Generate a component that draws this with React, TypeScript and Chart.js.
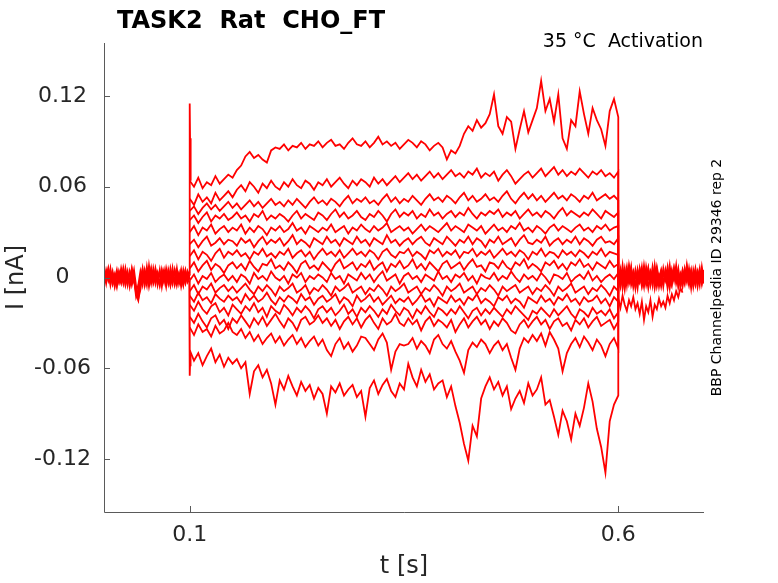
import { Chart, registerables } from 'chart.js';
import { useEffect, useRef } from 'react';

Chart.register(...registerables);

// currents are in pA here, plotted in nA
const STEP_T = [
  0.100, 0.105, 0.110, 0.115, 0.120, 0.125, 0.130, 0.135, 0.140, 0.145,
  0.150, 0.155, 0.160, 0.165, 0.170, 0.175, 0.180, 0.185, 0.190, 0.195,
  0.200, 0.205, 0.210, 0.215, 0.220, 0.225, 0.230, 0.235, 0.240, 0.245,
  0.250, 0.255, 0.260, 0.265, 0.270, 0.275, 0.280, 0.285, 0.290, 0.295,
  0.300, 0.305, 0.310, 0.315, 0.320, 0.325, 0.330, 0.335, 0.340, 0.345,
  0.350, 0.355, 0.360, 0.365, 0.370, 0.375, 0.380, 0.385, 0.390, 0.395,
  0.400, 0.405, 0.410, 0.415, 0.420, 0.425, 0.430, 0.435, 0.440, 0.445,
  0.450, 0.455, 0.460, 0.465, 0.470, 0.475, 0.480, 0.485, 0.490, 0.495,
  0.500, 0.505, 0.510, 0.515, 0.520, 0.525, 0.530, 0.535, 0.540, 0.545,
  0.550, 0.555, 0.560, 0.565, 0.570, 0.575, 0.580, 0.585, 0.590, 0.595,
  0.600,
];

const SWEEP_01 = [
  64, 60, 66, 59, 63, 61, 67, 62, 65, 68, 66,
  71, 74, 80, 83, 79, 81, 78, 76, 84, 86,
  85, 88, 84, 87, 86, 89, 85, 88, 87, 90,
  86, 89, 91, 87, 88, 85, 89, 92, 88, 87,
  90, 86, 89, 93, 88, 90, 87, 89, 85, 88,
  91, 89, 86, 90, 88, 84, 87, 89, 86, 78,
  84, 82, 87,
  95, 100, 97, 104, 99, 102, 108,
  121, 100, 95, 106, 103, 85, 98, 110, 96, 104,
  112, 130, 110, 118, 103, 121, 92, 85, 104, 100,
  123, 108, 95, 112, 104, 98, 87, 110, 118, 106, 112,
];
const SWEEP_02 = [
  52, 48, 55, 50, 53, 49, 56, 51, 54, 57, 53,
  58, 61, 57, 63, 60, 56, 62, 59, 64, 60,
  58, 63, 60, 65, 61, 59, 64, 62, 58, 63,
  61, 65, 60, 63, 66, 62, 59, 64, 61, 65,
  63, 60, 66, 62, 65, 61, 64, 67, 63, 66,
  69, 65, 68, 64, 67, 70, 66, 69, 65, 68,
  71, 67, 69, 66, 70, 68, 72, 66, 69, 67,
  70, 64, 68, 71, 67, 62, 65, 68, 70, 66,
  69, 72, 67, 70, 73, 68, 71, 67, 70, 68,
  72, 69, 66, 70, 68, 71, 67, 69, 66, 70, 68,
];
const SWEEP_03 = [
  44, 47, 42, 46, 49, 45, 48, 44, 47, 50, 46,
  49, 45, 48, 51, 47, 50, 46, 49, 52, 48,
  50, 47, 51, 48, 52, 49, 46, 50, 53, 49,
  51, 48, 52, 50, 47, 51, 54, 49, 52, 50,
  53, 49, 51, 48, 52, 55, 50, 53, 49, 52,
  50, 54, 51, 48, 52, 55, 51, 53, 50, 54,
  52, 49, 53, 56, 51, 54, 50, 52, 55, 51,
  53, 50, 54, 57, 52, 49, 53, 56, 52, 55,
  51, 54, 50, 53, 56, 52, 54, 51, 55, 53,
  50, 54, 52, 56, 51, 53, 55, 52, 54, 51, 53,
];
const SWEEP_04 = [
  38, 41, 36, 40, 43, 37, 41, 39, 42, 38, 40,
  43, 39, 41, 37, 42, 40, 44, 38, 41, 39,
  42, 40, 37, 41, 44, 39, 42, 40, 38, 43,
  41, 38, 42, 45, 40, 43, 39, 41, 44, 40,
  38, 42, 40, 44, 41, 37, 42, 45, 40, 43,
  41, 44, 39, 42, 40, 45, 41, 43, 39, 42,
  44, 40, 43, 41, 46, 42, 39, 43, 41, 44,
  42, 45, 40, 43, 41, 44, 39, 42, 45, 41,
  43, 40, 44, 42, 39, 43, 46, 41, 44, 42,
  40, 43, 41, 45, 42, 39, 44, 42, 40, 43, 41,
];
const SWEEP_05 = [
  30, 34, 28, 33, 31, 35, 29, 32, 34, 30, 33,
  31, 35, 29, 33, 30, 34, 32, 28, 33, 31,
  34, 30, 32, 36, 31, 33, 29, 34, 32, 30,
  33, 31, 35, 30, 32, 34, 29, 33, 31, 35,
  32, 30, 34, 31, 33, 36, 30, 32, 34, 31,
  33, 29, 32, 35, 31, 34, 32, 30, 33, 36,
  31, 34, 32, 30, 35, 33, 31, 34, 29, 32,
  35, 31, 33, 30, 34, 32, 36, 31, 33, 30,
  34, 32, 29, 33, 35, 31, 34, 32, 30, 33,
  35, 31, 33, 30, 34, 32, 35, 31, 33, 34, 32,
];
const SWEEP_06 = [
  22, 25, 20, 24, 27, 21, 23, 26, 22, 25, 24,
  21, 26, 23, 25, 20, 24, 27, 22, 25, 23,
  26, 21, 24, 28, 22, 25, 23, 20, 26, 24,
  22, 27, 23, 25, 21, 26, 24, 22, 27, 23,
  25, 21, 26, 24, 22, 28, 23, 25, 21, 24,
  26, 22, 25, 27, 23, 21, 26, 24, 22, 27,
  24, 21, 25, 23, 27, 22, 26, 24, 20, 25,
  23, 27, 22, 24, 26, 21, 25, 28, 23, 22,
  25, 23, 27, 21, 24, 26, 22, 25, 23, 27,
  22, 26, 24, 21, 25, 27, 23, 24, 22, 26, 24,
];
const SWEEP_07 = [
  14, 18, 12, 17, 15, 11, 16, 19, 13, 17, 15,
  18, 14, 16, 12, 17, 15, 19, 14, 16, 13,
  17, 15, 19, 13, 16, 18, 14, 17, 12, 16,
  19, 15, 17, 14, 18, 13, 16, 19, 15, 17,
  14, 18, 16, 12, 17, 19, 15, 13, 17, 16,
  19, 14, 17, 15, 12, 18, 16, 19, 14, 17,
  15, 18, 13, 17, 16, 19, 14, 17, 15, 18,
  13, 16, 19, 15, 17, 14, 18, 16, 12, 17,
  15, 19, 14, 17, 16, 13, 18, 15, 17, 14,
  18, 16, 13, 17, 15, 19, 14, 17, 16, 15, 18,
];
const SWEEP_08 = [
  6, 10, 4, 8, 11, 5, 9, 7, 3, 8, 10,
  6, 9, 5, 11, 7, 4, 9, 8, 12, 6,
  8, 5, 10, 7, 3, 9, 11, 6, 8, 5,
  10, 7, 4, 9, 12, 6, 8, 10, 5, 9,
  7, 11, 5, 8, 10, 4, 9, 7, 11, 6,
  8, 12, 6, 9, 5, 10, 7, 4, 9, 11,
  6, 8, 10, 5, 9, 12, 7, 8, 4, 10,
  9, 6, 11, 7, 5, 10, 8, 12, 6, 9,
  7, 4, 10, 8, 11, 6, 9, 5, 10, 8,
  12, 7, 9, 5, 10, 8, 6, 11, 7, 9, 8,
];
const SWEEP_09 = [
  -2, 2, -4, 1, -1, 3, -3, 0, 2, -2, 1,
  -3, 2, 0, -4, 3, -1, 1, -2, 4, 0,
  -2, 1, -4, 2, 0, 3, -3, 1, -1, 2,
  0, -3, 3, -1, 1, -4, 2, 0, -2, 3,
  -1, 2, -3, 1, 4, -2, 0, 2, -4, 1,
  3, -1, 1, -3, 2, 0, -2, 4, -1, 1,
  -3, 2, 0, 3, -2, 1, -4, 2, 0, -1,
  3, -2, 1, -1, 4, 0, -3, 2, -1, 1,
  -2, 3, 0, -4, 2, 1, -1, 3, -3, 0,
  2, -1, 4, -2, 1, -3, 0, 2, -1, 3, 0,
];
const SWEEP_10 = [
  -9, -5, -11, -6, -8, -4, -10, -7, -5, -9, -6,
  -10, -7, -4, -8, -11, -6, -9, -5, -8, -12,
  -6, -9, -7, -4, -10, -8, -5, -11, -7, -9,
  -5, -8, -12, -6, -9, -7, -4, -10, -8, -6,
  -11, -7, -9, -5, -8, -12, -6, -9, -7, -4,
  -10, -8, -6, -11, -7, -9, -5, -8, -12, -6,
  -9, -7, -4, -10, -8, -6, -11, -7, -9, -5,
  -8, -12, -6, -9, -7, -5, -10, -8, -6, -11,
  -7, -9, -5, -8, -12, -6, -9, -7, -4, -10,
  -8, -6, -11, -7, -9, -5, -8, -12, -6, -9, -7,
];
const SWEEP_11 = [
  -12, -16, -10, -15, -13, -17, -11, -14, -16, -12, -15,
  -13, -17, -11, -15, -12, -16, -14, -10, -15, -18,
  -13, -16, -12, -14, -17, -11, -15, -13, -18, -14,
  -12, -16, -14, -11, -17, -13, -15, -19, -12, -16,
  -14, -11, -16, -13, -18, -15, -12, -17, -14, -16,
  -13, -18, -15, -11, -16, -14, -19, -13, -15, -17,
  -12, -16, -14, -18, -13, -15, -11, -17, -14, -16,
  -19, -13, -15, -12, -17, -14, -16, -20, -13, -15,
  -17, -12, -16, -14, -18, -13, -15, -11, -16, -14,
  -18, -13, -16, -15, -12, -17, -14, -19, -13, -16, -15,
];
const SWEEP_12 = [
  -18, -22, -16, -21, -24, -19, -17, -23, -20, -25, -18,
  -21, -24, -19, -22, -17, -23, -20, -26, -19, -22,
  -24, -18, -21, -25, -20, -23, -19, -22, -27, -21,
  -19, -23, -20, -25, -22, -18, -24, -21, -26, -20,
  -23, -19, -22, -26, -21, -24, -18, -22, -25, -20,
  -22, -27, -21, -24, -19, -23, -26, -20, -22, -25,
  -21, -24, -19, -23, -27, -22, -20, -25, -21, -24,
  -20, -23, -26, -21, -24, -19, -22, -25, -28, -22,
  -24, -20, -23, -26, -21, -25, -22, -19, -24, -27,
  -21, -23, -26, -20, -24, -22, -25, -21, -27, -23, -24,
];
const SWEEP_13 = [
  -26, -30, -24, -29, -33, -27, -25, -31, -28, -34, -27,
  -30, -25, -29, -33, -27, -31, -26, -32, -28, -24,
  -29, -33, -27, -30, -35, -28, -26, -31, -29, -25,
  -30, -27, -32, -28, -34, -29, -26, -31, -27, -33,
  -28, -25, -30, -34, -27, -31, -29, -24, -30, -32,
  -27, -31, -28, -35, -29, -26, -32, -28, -30, -33,
  -28, -36, -31, -27, -33, -29, -26, -31, -28, -34,
  -29, -32, -27, -30, -35, -37, -31, -28, -33, -29,
  -26, -31, -28, -34, -29, -27, -32, -30, -35, -28,
  -31, -27, -33, -29, -26, -32, -30, -28, -34, -29, -31,
];
const SWEEP_14 = [
  -33, -38, -31, -36, -34, -39, -32, -37, -35, -30, -36,
  -38, -34, -40, -36, -42, -38, -44, -40, -37, -43,
  -39, -45, -41, -38, -44, -40, -46, -42, -39, -45,
  -41, -48, -52, -44, -40, -47, -43, -49, -45, -39,
  -40, -44, -48, -41, -37, -43, -61, -49, -44, -45,
  -44, -40, -47, -42, -45, -50, -41, -38, -44, -47,
  -42, -49, -55, -63, -48, -43, -46, -41, -44, -50,
  -45, -42, -48, -44, -53, -61, -47, -40, -43, -38,
  -42, -37, -45, -36, -41, -47, -62, -50, -44, -40,
  -46, -39, -43, -48, -41, -45, -52, -44, -40, -47, -43,
];
const SWEEP_15 = [
  -48, -55, -50, -58, -52, -47, -56, -51, -59, -53, -57,
  -54, -60, -56, -77, -62, -58, -66, -61, -70, -84,
  -68, -74, -65, -72, -78, -69, -75, -71, -80, -73,
  -77, -90, -72, -76, -70, -78, -74, -71, -79, -75,
  -92, -73, -68, -77, -71, -67, -75, -79, -70, -74,
  -57, -66, -72, -61, -69, -64, -74, -70, -68, -79,
  -72, -85, -96, -110, -121, -98, -105, -80, -72, -66,
  -74, -69, -78, -72, -87, -80, -75, -83, -70, -78,
  -74, -66, -84, -81, -92, -104, -88, -95, -107, -90,
  -98, -86, -70, -82, -100, -112, -129, -95, -84, -78, -86,
];
const SWEEPS = [
  SWEEP_01, SWEEP_02, SWEEP_03, SWEEP_04, SWEEP_05, SWEEP_06, SWEEP_07, SWEEP_08,
  SWEEP_09, SWEEP_10, SWEEP_11, SWEEP_12, SWEEP_13, SWEEP_14, SWEEP_15,
];

// holding current before the step
const PRE_T = [
  0.0000, 0.0025, 0.0050, 0.0075, 0.0100, 0.0125, 0.0150, 0.0175, 0.0200, 0.0225,
  0.0250, 0.0275, 0.0300, 0.0325, 0.0350, 0.0375, 0.0400, 0.0425, 0.0450, 0.0475,
  0.0500, 0.0525, 0.0550, 0.0575, 0.0600, 0.0625, 0.0650, 0.0675, 0.0700, 0.0725,
  0.0750, 0.0775, 0.0800, 0.0825, 0.0850, 0.0875, 0.0900, 0.0925, 0.0950, 0.0975,
  0.1000,
];
const PRE_A = [3, -4, 5, -2, 4, -5, 2, -3, 6, -1, 3, -5, 4, -2, 5, -6, -14, -8, 3, -4, 7, -3, 5, -2, 4, -5, 3, -1, 5, -4, 2, -5, 6, -3, 4, -2, 5, -4, 3, -2, 2];
const PRE_B = [-3, 5, -1, 4, -4, 2, -5, 3, -2, 5, -4, 1, -3, 6, -2, -9, -5, 4, -3, 2, -5, 8, -2, 4, -4, 3, -5, 5, -2, 3, -4, 6, -1, 4, -5, 2, -3, 5, -2, 4, -1];
const PRE_C = [1, -2, 4, -5, 3, -1, 5, -3, 2, -4, 6, -2, 3, -5, 1, -11, -15, -3, 5, -2, 4, -6, 2, -3, 6, -1, 4, -4, 2, -6, 5, -2, 3, -5, 1, -3, 4, -1, 5, -3, 0];
const PRE_D = [-5, 3, -2, 6, -4, 1, -6, 4, -1, 3, -5, 2, -4, 5, -3, -7, -12, -2, 6, -5, 3, -2, 6, -4, 1, -3, 5, -6, 3, -2, 4, -5, 1, -3, 6, -4, 2, -5, 4, -1, -3];
const PRE_E = [4, -1, 6, -3, 2, -6, 3, 0, -4, 6, -2, 4, -6, 2, -1, -13, -9, 1, -5, 5, -1, 3, -4, 6, -2, 0, -5, 4, -3, 6, -1, 3, -4, 5, -2, 3, -6, 1, -4, 2, 4];

// after the step
const POST_T = [
  0.6000, 0.6025, 0.6050, 0.6075, 0.6100, 0.6125, 0.6150, 0.6175, 0.6200, 0.6225,
  0.6250, 0.6275, 0.6300, 0.6325, 0.6350, 0.6375, 0.6400, 0.6425, 0.6450, 0.6475,
  0.6500, 0.6525, 0.6550, 0.6575, 0.6600, 0.6625, 0.6650, 0.6675, 0.6700, 0.6725,
  0.6750, 0.6775, 0.6800, 0.6825, 0.6850, 0.6875, 0.6900, 0.6925, 0.6950, 0.6975,
  0.7000,
];
const POST_A = [6, -3, 8, -5, 4, -2, 7, -6, 3, -1, 5, -4, 8, -2, 6, -5, 3, -3, 7, -1, 4, -6, 5, -2, 8, -4, 3, -1, 6, -5, 4, -3, 7, -2, 5, -6, 3, -1, 6, -4, 5];
const POST_B = [-4, 5, -7, 2, -3, 6, -5, 1, -6, 4, -2, 7, -4, 3, -7, 2, -3, 5, -6, 1, -4, 6, -2, 3, -7, 4, -1, 5, -5, 2, -6, 3, -3, 6, -4, 1, -5, 4, -2, 3, -4];
const POST_C = [2, -6, 4, -1, 7, -4, 2, -5, 5, -2, 3, -6, 1, -3, 6, -2, 4, -7, 2, -1, 5, -3, 1, -5, 3, -2, 6, -4, 2, -3, 5, -1, 2, -5, 4, -2, 6, -3, 1, -4, 2];
const POST_D = [-7, 3, -2, 6, -5, 8, -1, 4, -7, 5, -3, 2, -6, 7, -1, 4, -5, 8, -3, 1, -6, 3, -1, 7, -4, 5, -2, 8, -6, 2, -3, 6, -1, 4, -7, 5, -2, 3, -5, 7, -2];
const POST_E = [5, -5, 1, -8, 4, -2, 6, -3, 2, -7, 6, -1, 3, -5, 2, -4, 7, -2, 5, -6, 2, -3, 4, -7, 1, -5, 6, -2, 3, -6, 2, -4, 8, -3, 1, -5, 4, -6, 3, -1, 2];
const TAIL = [-14, -20, -12, -18, -22, -15, -19, -13, -21, -17, -24, -16, -28, -19, -23, -15, -26, -18, -21, -14, -19, -16, -20, -12, -17, -11, -15, -9, -13, -7, -10];

// capacitive transients at step onset
const SPIKE_UP_T = [0.0995, 0.1000, 0.1004, 0.1008, 0.1014];
const SPIKE_UP = [2, 115, 92, 74, 64];
const SPIKE_DOWN_T = [0.0995, 0.1000, 0.1004, 0.1010];
const SPIKE_DOWN = [-2, -65, -58, -50];

const STEP_END = 0.6;
const HOLDING = 0;

const X_TICKS = [0.1, 0.6];
const X_LABELS = ['0.1', '0.6'];
const Y_TICKS = [-0.12, -0.06, 0, 0.06, 0.12];
const Y_LABELS = ['-0.12', '-0.06', '0', '0.06', '0.12'];

const TITLE = 'TASK2  Rat  CHO_FT';
const NOTE = '35 °C  Activation';
const SIDE = 'BBP Channelpedia ID 29346 rep 2';

const FONT = "'DejaVu Sans', sans-serif";
const AXIS = '#262626';

const toPoints = (ts: number[], vs: number[]) => ts.map((t, k) => ({ x: t, y: vs[k] / 1000 }));

const matlabFrame = {
  id: 'matlabFrame',
  afterDraw(chart: any) {
    const { ctx, chartArea: a, scales } = chart;
    ctx.save();
    ctx.strokeStyle = '#5a5a5a';
    ctx.lineWidth = 1;
    ctx.beginPath();
    ctx.moveTo(a.left + 0.5, a.top);
    ctx.lineTo(a.left + 0.5, a.bottom + 0.5);
    ctx.lineTo(a.right, a.bottom + 0.5);
    Y_TICKS.forEach((v) => {
      const y = Math.round(scales.y.getPixelForValue(v)) + 0.5;
      ctx.moveTo(a.left, y);
      ctx.lineTo(a.left + 6, y);
    });
    X_TICKS.forEach((v) => {
      const x = Math.round(scales.x.getPixelForValue(v)) + 0.5;
      ctx.moveTo(x, a.bottom);
      ctx.lineTo(x, a.bottom - 6);
    });
    ctx.stroke();

    ctx.fillStyle = '#000';
    ctx.font = `bold 24px ${FONT}`;
    ctx.textAlign = 'left';
    ctx.textBaseline = 'alphabetic';
    ctx.fillText(TITLE, 117, 28);

    ctx.font = `19px ${FONT}`;
    ctx.textAlign = 'right';
    ctx.fillText(NOTE, a.right - 1, 47);

    ctx.fillStyle = AXIS;
    ctx.font = `24px ${FONT}`;
    ctx.textAlign = 'center';
    ctx.textBaseline = 'middle';
    ctx.fillText('t [s]', (a.left + a.right) / 2, 567);
    ctx.save();
    ctx.translate(17, (a.top + a.bottom) / 2);
    ctx.rotate(-Math.PI / 2);
    ctx.fillText('I [nA]', 0, 0);
    ctx.restore();

    ctx.fillStyle = '#000';
    ctx.font = `14px ${FONT}`;
    ctx.save();
    ctx.translate(717, (a.top + a.bottom) / 2);
    ctx.rotate(-Math.PI / 2);
    ctx.fillText(SIDE, 0, 0);
    ctx.restore();
    ctx.restore();
  },
};

export default function App() {
  const canvasRef = useRef<HTMLCanvasElement>(null);

  useEffect(() => {
    const canvas = canvasRef.current;
    if (!canvas) return;
    const line = (data: { x: number; y: number }[]) => ({
      data,
      borderColor: '#ff0000',
      borderWidth: 1.8,
      pointRadius: 0,
      fill: false,
      tension: 0,
    });
    const datasets = [
      line(toPoints(PRE_T, PRE_A)),
      line(toPoints(PRE_T, PRE_B)),
      line(toPoints(PRE_T, PRE_C)),
      line(toPoints(PRE_T, PRE_D)),
      line(toPoints(PRE_T, PRE_E)),
      line(toPoints(POST_T, POST_A)),
      line(toPoints(POST_T, POST_B)),
      line(toPoints(POST_T, POST_C)),
      line(toPoints(POST_T, POST_D)),
      line(toPoints(POST_T, POST_E)),
      line(toPoints(POST_T.slice(0, TAIL.length), TAIL)),
      line(toPoints(SPIKE_UP_T, SPIKE_UP)),
      line(toPoints(SPIKE_DOWN_T, SPIKE_DOWN)),
      ...SWEEPS.map((s) => line([...toPoints(STEP_T, s), { x: STEP_END, y: HOLDING }])),
    ];

    const chart = new Chart(canvas, {
      type: 'line',
      data: { datasets },
      plugins: [matlabFrame],
      options: {
        animation: false,
        responsive: true,
        maintainAspectRatio: false,
        layout: { padding: { left: 0, top: 43, right: 74, bottom: 0 } },
        plugins: { legend: { display: false }, tooltip: { enabled: false } },
        scales: {
          x: {
            type: 'linear',
            min: 0,
            max: 0.7,
            afterFit: (s: any) => { s.height = 71; },
            afterBuildTicks: (s: any) => { s.ticks = X_TICKS.map((value) => ({ value })); },
            grid: { display: false, drawTicks: false },
            border: { display: false },
            ticks: {
              padding: 10,
              color: AXIS,
              font: { family: FONT, size: 22 },
              maxRotation: 0,
              callback: (v: any) => X_LABELS[X_TICKS.indexOf(Number(v))] ?? '',
            },
          },
          y: {
            type: 'linear',
            min: -0.155,
            max: 0.155,
            afterFit: (s: any) => { s.width = 104; },
            afterBuildTicks: (s: any) => { s.ticks = Y_TICKS.map((value) => ({ value })); },
            grid: { display: false, drawTicks: false },
            border: { display: false },
            ticks: {
              padding: 13,
              crossAlign: 'center',
              color: AXIS,
              font: { family: FONT, size: 22 },
              callback: (v: any) => Y_LABELS[Y_TICKS.indexOf(Number(v))] ?? '',
            },
          },
        },
      },
    });

    return () => chart.destroy();
  }, []);

  return (
    <div style={{ position: 'fixed', left: 0, top: 0, width: 778, height: 583, background: '#fff' }}>
      <canvas ref={canvasRef} />
    </div>
  );
}
